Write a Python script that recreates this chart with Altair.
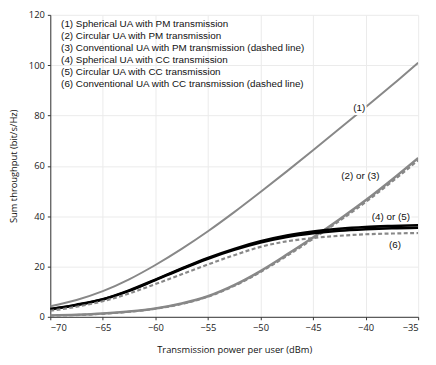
import altair as alt
import pandas as pd

power = [-70, -67.5, -65, -62.5, -60, -57.5, -55, -52.5, -50, -47.5, -45, -42.5, -40, -37.5, -35]

s1 = [4.2, 6.7, 10.2, 14.9, 20.6, 27.0, 34.0, 41.6, 49.6, 57.8, 66.2, 74.7, 83.3, 92.0, 101.0]
s2 = [0.5, 0.8, 1.3, 2.1, 3.3, 5.3, 8.2, 12.6, 18.2, 24.7, 31.5, 38.7, 46.3, 54.5, 63.1]
s3 = [0.4, 0.7, 1.2, 2.0, 3.2, 5.1, 8.0, 12.3, 17.8, 24.2, 31.0, 38.1, 45.6, 53.7, 62.2]
s4 = [3.1, 4.8, 7.0, 10.5, 14.8, 19.2, 23.4, 27.0, 30.0, 32.3, 33.9, 35.0, 35.7, 36.1, 36.4]
s5 = [3.0, 4.7, 6.9, 10.3, 14.6, 19.0, 23.1, 26.6, 29.5, 31.7, 33.2, 34.2, 34.8, 35.2, 35.4]
s6 = [2.4, 4.0, 6.2, 9.3, 13.0, 16.9, 20.8, 24.5, 27.8, 30.0, 31.3, 32.2, 32.8, 33.1, 33.3]

series_names = ["1", "2", "3", "4", "5", "6"]
series_vals = [s1, s2, s3, s4, s5, s6]
series_color = ["#888888", "#888888", "#888888", "#000000", "#000000", "#888888"]
series_width = [2.0, 2.6, 2.2, 2.6, 2.6, 2.2]
series_dash = [False, False, True, False, False, True]

legend_lines = [
    "(1) Spherical UA with PM transmission",
    "(2) Circular UA with PM transmission",
    "(3) Conventional UA with PM transmission (dashed line)",
    "(4) Spherical UA with CC transmission",
    "(5) Circular UA with CC transmission",
    "(6) Conventional UA with CC transmission (dashed line)",
]

ann_text = ["(1)", "(2) or (3)", "(4) or (5)", "(6)"]
ann_x = [-40.6, -40.5, -37.6, -37.2]
ann_y = [82.8, 55.9, 39.6, 28.7]

x_scale = alt.Scale(domain=[-70, -35], nice=False, zero=False)
y_scale = alt.Scale(domain=[0, 120], nice=False)

layers = []
for name, vals, col, w, dash in zip(series_names, series_vals, series_color, series_width, series_dash):
    df = pd.DataFrame({"p": power, "v": vals})
    kw = dict(color=col, strokeWidth=w, interpolate="monotone", clip=True)
    if dash:
        kw["strokeDash"] = [4, 2.5]
    layers.append(
        alt.Chart(df).mark_line(**kw).encode(
            x=alt.X("p:Q", scale=x_scale,
                    axis=alt.Axis(title="Transmission power per user (dBm)", values=[-70, -65, -60, -55, -50, -45, -40, -35])),
            y=alt.Y("v:Q", scale=y_scale,
                    axis=alt.Axis(title="Sum throughput (bit/s/Hz)", values=[0, 20, 40, 60, 80, 100, 120])),
        )
    )

ann_df = pd.DataFrame({"t": ann_text, "x": ann_x, "y": ann_y})
halo = alt.Chart(ann_df).mark_text(font="Liberation Sans", fontSize=10, color="white",
                                   stroke="white", strokeWidth=4).encode(
    x=alt.X("x:Q", scale=x_scale), y=alt.Y("y:Q", scale=y_scale), text="t:N")
ann = alt.Chart(ann_df).mark_text(font="Liberation Sans", fontSize=10, color="#111111").encode(
    x=alt.X("x:Q", scale=x_scale), y=alt.Y("y:Q", scale=y_scale), text="t:N")

leg_df = pd.DataFrame({"t": legend_lines, "i": list(range(len(legend_lines)))})
legend = alt.Chart(leg_df).transform_calculate(
    py="9.7 + 12.05 * datum.i"
).mark_text(font="Liberation Sans", fontSize=10, align="left", baseline="middle", color="#111111").encode(
    x=alt.value(11), y=alt.Y("py:Q", scale=None), text="t:N")

chart = alt.layer(*layers, halo, ann, legend).properties(
    width=374, height=307,
    padding={"left": 43, "top": 4, "right": 10, "bottom": 45},
    autosize=alt.AutoSizeParams(type="none"),
).configure_view(stroke=None).configure_axis(
    labelFont="Open Sans", labelFontSize=9.5, labelColor="#222222",
    titleFont="Open Sans", titleFontSize=9.5, titleFontWeight="normal", titleColor="#111111",
    domainColor="#333333", tickColor="#333333", tickSize=3, labelPadding=3,
    gridColor="#ebebeb", gridWidth=1,
).configure_axisX(titlePadding=13).configure_axisY(titlePadding=10)

chart.save("out.html", embed_options={"renderer": "svg", "actions": False})
